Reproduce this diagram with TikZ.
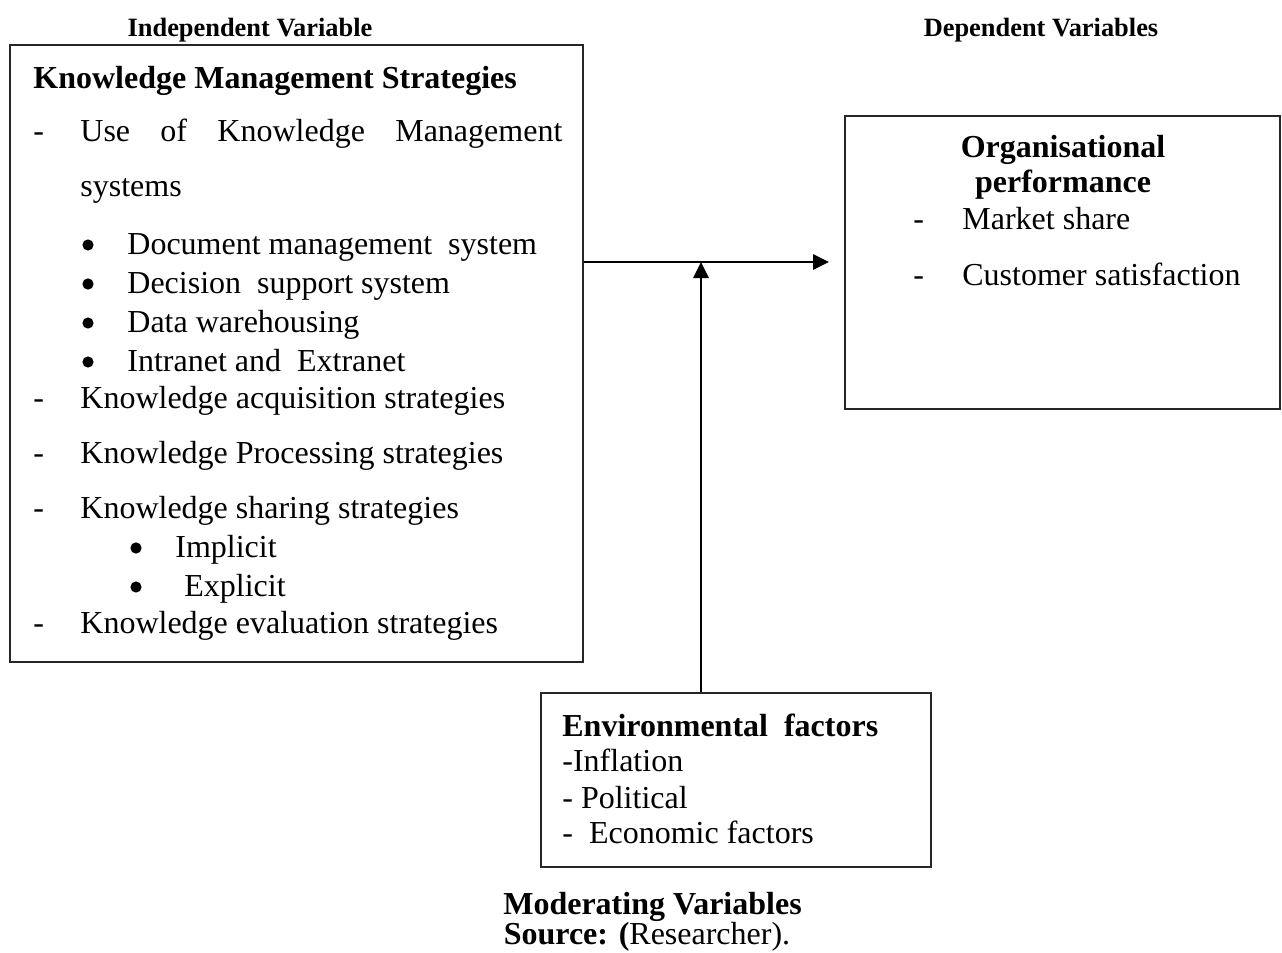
\documentclass[tikz,border=0pt]{standalone}
\usepackage{fontspec}
\setmainfont{Liberation Serif}
\usetikzlibrary{arrows.meta,calc}
\begin{document}
\begin{tikzpicture}[x=0.5pt,y=-0.5pt,
  box/.style={draw=black!85, line width=1pt, inner sep=0pt, rectangle},
  txt/.style={anchor=base west, inner sep=0pt, font=\fontsize{16}{19}\selectfont},
  btxt/.style={anchor=base west, inner sep=0pt, font=\fontsize{16}{19}\selectfont\bfseries},
  ctxt/.style={anchor=base, inner sep=0pt, font=\fontsize{16}{19}\selectfont},
  small/.style={anchor=base, inner sep=0pt, font=\fontsize{13.2}{16}\selectfont\bfseries},
  bul/.style={circle, fill=black, inner sep=0pt, minimum size=5.6pt},
  arr/.style={line width=1.4pt, -{Triangle[length=8pt,width=7.5pt]}}]
\useasboundingbox (0,0) rectangle (1282,953);

% boxes
\node[box, minimum width=286.5pt, minimum height=308.5pt] (kms) at (296.5,353.5) {};
\node[box, minimum width=217.5pt, minimum height=146.5pt] (op) at (1062.5,262.5) {};
\node[box, minimum width=195pt, minimum height=87pt] (env) at (736,780) {};

% top labels
\node[small] (iv) at (250,36) {Independent Variable};
\node[small] (dv) at (1041,36) {Dependent Variables};

% left box text
\node[btxt] (k0) at (33,88) {Knowledge Management Strategies};
\node[txt] (d1) at (33,141) {-};
\node[txt] (k1) at (80,141) {\hbox to 241pt{Use\hfill of\hfill Knowledge\hfill Management}};
\node[txt] (k2) at (80,196) {systems};
\node[bul] (b1) at (88,245) {};
\node[txt] (k3) at (127,254) {Document management\ \ system};
\node[bul] (b2) at (88,284) {};
\node[txt] (k4) at (127,293) {Decision\ \ support system};
\node[bul] (b3) at (88,323) {};
\node[txt] (k5) at (127,332) {Data warehousing};
\node[bul] (b4) at (88,362) {};
\node[txt] (k6) at (127,371) {Intranet and\ \ Extranet};
\node[txt] (d2) at (33,408) {-};
\node[txt] (k7) at (80,408) {Knowledge acquisition strategies};
\node[txt] (d3) at (33,463) {-};
\node[txt] (k8) at (80,463) {Knowledge Processing strategies};
\node[txt] (d4) at (33,518) {-};
\node[txt] (k9) at (80,518) {Knowledge sharing strategies};
\node[bul] (b5) at (136,548) {};
\node[txt] (k10) at (175,557) {Implicit};
\node[bul] (b6) at (136,587) {};
\node[txt] (k11) at (184,596) {Explicit};
\node[txt] (d5) at (33,633) {-};
\node[txt] (k12) at (80,633) {Knowledge evaluation strategies};

% right box text
\node[ctxt, font=\fontsize{16}{19}\selectfont\bfseries] (o1) at (1063,157) {Organisational};
\node[ctxt, font=\fontsize{16}{19}\selectfont\bfseries] (o2) at (1063,192) {performance};
\node[txt] (d6) at (913,229) {-};
\node[txt] (o3) at (962,229) {Market share};
\node[txt] (d7) at (913,285) {-};
\node[txt] (o4) at (962,285) {Customer satisfaction};

% environment box text
\node[btxt] (e1) at (562,736) {Environmental\ \ factors};
\node[txt] (e2) at (562,771) {-Inflation};
\node[txt] (e3) at (562,808) {- Political};
\node[txt] (e4) at (562,843) {-\ \ Economic factors};

% bottom labels
\node[ctxt, font=\fontsize{16}{19}\selectfont\bfseries, text depth=1pt] (mv) at (652.5,914) {Moderating Variables};
\node[ctxt, text height=10pt] (src) at (647,944) {\textbf{Source:} \textbf{(}Researcher).};

% connectors
\coordinate (jn) at (701,262);
\draw[arr, shorten >=7.5pt] (kms.east |- jn) -- (op.west |- jn);
\draw[arr] (env.north -| jn) -- (jn);
\end{tikzpicture}
\end{document}
